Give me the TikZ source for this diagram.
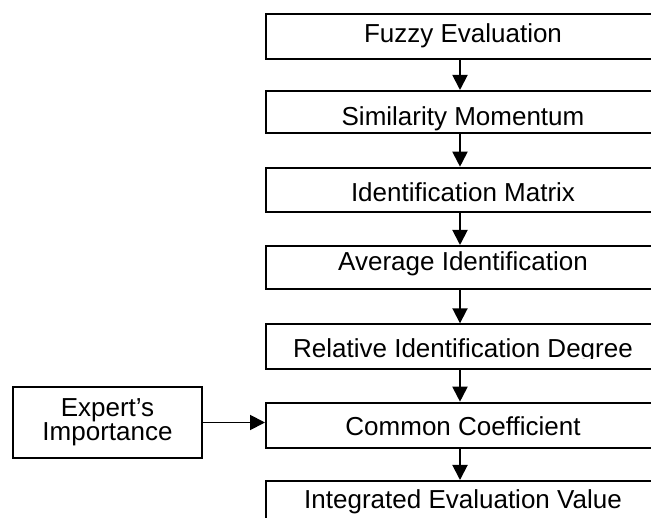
\documentclass[tikz,border=0pt]{standalone}
\usepackage{fontspec}
\setmainfont{Liberation Sans}
\usetikzlibrary{arrows.meta}
\begin{document}
\begin{tikzpicture}[x=1pt,y=-1pt,
  box/.style={draw, line width=2pt, inner sep=0pt, minimum width=394pt,
    font=\fontsize{26}{23}\selectfont, anchor=north},
  sidebox/.style={draw, line width=2pt, inner sep=0pt, minimum width=189pt,
    minimum height=71pt, align=center, font=\fontsize{26}{23}\selectfont},
  conn/.style={line width=1.9pt, -{Triangle[length=15pt,width=15pt]}}]
\useasboundingbox (0,0) rectangle (651,518);
\node[box, text height=28.4pt, text depth=16.6pt] (b1) at (463,13.3) {Fuzzy Evaluation};
\node[box, text height=35pt, text depth=6.7pt] (b2) at (463,90) {Similarity Momentum};
\node[box, text height=34pt, text depth=10pt] (b3) at (463,166.7) {Identification Matrix};
\node[box, text height=25pt, text depth=18.3pt] (b4) at (463,245) {Average Identification};
\node[box, text height=33.4pt, text depth=11pt] (b5) at (463,323.3) {Relative Identification Degree};
\fill[white] (280,358.6) rectangle (645,366.6);
\node[box, text height=33.3pt, text depth=11.7pt] (b6) at (463,401.7) {Common Coefficient};
\node[box, text height=28pt, text depth=40pt] (b7) at (463,480) {Integrated Evaluation Value};
\node[sidebox] (ex) at (107.5,422.5) {Expert’s\\Importance};
\draw[conn] ([xshift=-3pt]b1.south) -- ([xshift=-3pt]b2.north);
\draw[conn] ([xshift=-3pt]b2.south) -- ([xshift=-3pt]b3.north);
\draw[conn] ([xshift=-3pt]b3.south) -- ([xshift=-3pt]b4.north);
\draw[conn] ([xshift=-3pt]b4.south) -- ([xshift=-3pt]b5.north);
\draw[conn] ([xshift=-3pt]b5.south) -- ([xshift=-3pt]b6.north);
\draw[conn] ([xshift=-3pt]b6.south) -- ([xshift=-3pt]b7.north);
\draw[conn] (ex.east) -- (ex.east -| b6.west);
\end{tikzpicture}
\end{document}
